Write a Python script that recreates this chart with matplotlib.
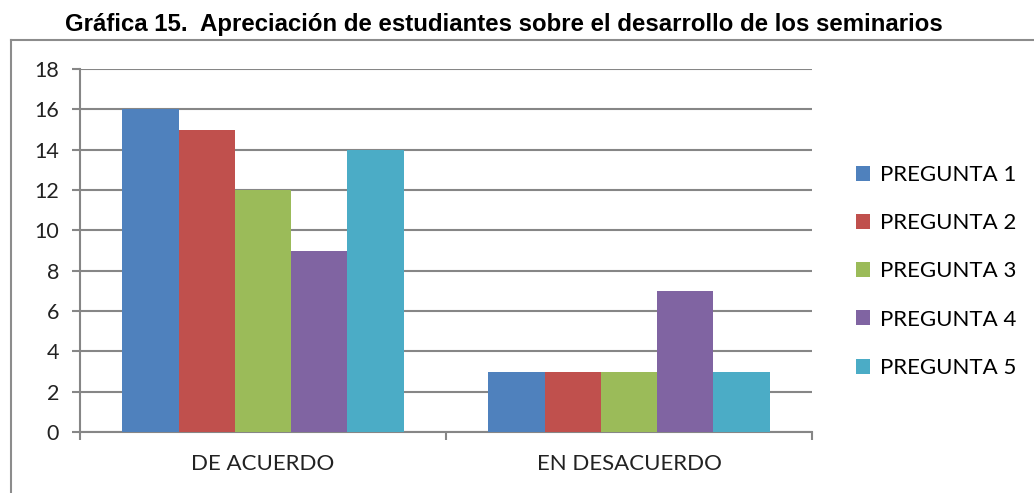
import matplotlib.pyplot as plt
import numpy as np
from matplotlib.lines import Line2D
from matplotlib.patches import Patch

# ---------- data ----------
categorias = ["DE ACUERDO", "EN DESACUERDO"]
series = ["PREGUNTA 1", "PREGUNTA 2", "PREGUNTA 3", "PREGUNTA 4", "PREGUNTA 5"]
pregunta_1 = [16, 3]
pregunta_2 = [15, 3]
pregunta_3 = [12, 3]
pregunta_4 = [9, 7]
pregunta_5 = [14, 3]
yticks = [0, 2, 4, 6, 8, 10, 12, 14, 16, 18]

colores = ["#4F81BD", "#C0504D", "#9BBB59", "#8064A2", "#4BACC6"]
valores = [pregunta_1, pregunta_2, pregunta_3, pregunta_4, pregunta_5]

W, H = 1034, 493
fig = plt.figure(figsize=(W / 100, H / 100), dpi=100)
ax = fig.add_axes([80 / W, (H - 432) / H, (812 - 80) / W, (432 - 69) / H])

gris = "#868686"
tick_font = ["Lato", "DejaVu Sans"]

x = np.arange(len(categorias))
ancho = 0.1536
for i, (nombre, vals) in enumerate(zip(series, valores)):
    ax.bar(x + (i - 2) * ancho, vals, width=ancho, color=colores[i], label=nombre, zorder=3)

ax.set_xlim(-0.5, 1.5)
ax.set_ylim(0, 18)
ax.set_yticks(yticks)
ax.yaxis.grid(True, color=gris, linewidth=1.5, zorder=0)
ax.set_axisbelow(True)

for s in ["top", "right"]:
    ax.spines[s].set_visible(False)
for s in ["left", "bottom"]:
    ax.spines[s].set_color(gris)
    ax.spines[s].set_linewidth(1.5)

ax.tick_params(axis="y", direction="out", length=6, width=1.5, color=gris, pad=9)
for lab in ax.get_yticklabels():
    lab.set_family(tick_font)
    lab.set_fontsize(15.5)
    lab.set_color("#222222")

ax.set_xticks(x)
ax.set_xticklabels(categorias, family=tick_font, fontsize=16, color="#222222")
ax.tick_params(axis="x", which="major", length=0, pad=16)
ax.set_xticks([-0.5, 0.5, 1.5], minor=True)
ax.tick_params(axis="x", which="minor", direction="out", length=6, width=1.5, color=gris)

handles = [Patch(facecolor=c, edgecolor="none") for c in colores]
fig.legend(handles, series, loc="upper left", bbox_to_anchor=(836 / W, (H - 145) / H),
           frameon=False, prop={"family": tick_font, "size": 16},
           handlelength=0.65, handleheight=0.65, handletextpad=0.45, labelspacing=1.27)

# marco exterior (solo borde superior e izquierdo visibles)
fig.add_artist(Line2D([11 / W, 11 / W], [0, (H - 40) / H], color="#8c8c8c", linewidth=1.5,
                      transform=fig.transFigure))
fig.add_artist(Line2D([11 / W, 1], [(H - 40) / H, (H - 40) / H], color="#8c8c8c", linewidth=1.5,
                      transform=fig.transFigure))

fig.text(504 / W, (H - 25) / H,
         "Gráfica 15.  Apreciación de estudiantes sobre el desarrollo de los seminarios",
         ha="center", va="center", fontsize=17.3, fontweight="bold",
         family=["Liberation Sans Narrow", "Liberation Sans", "DejaVu Sans"])

fig.savefig("out.png", dpi=100)
